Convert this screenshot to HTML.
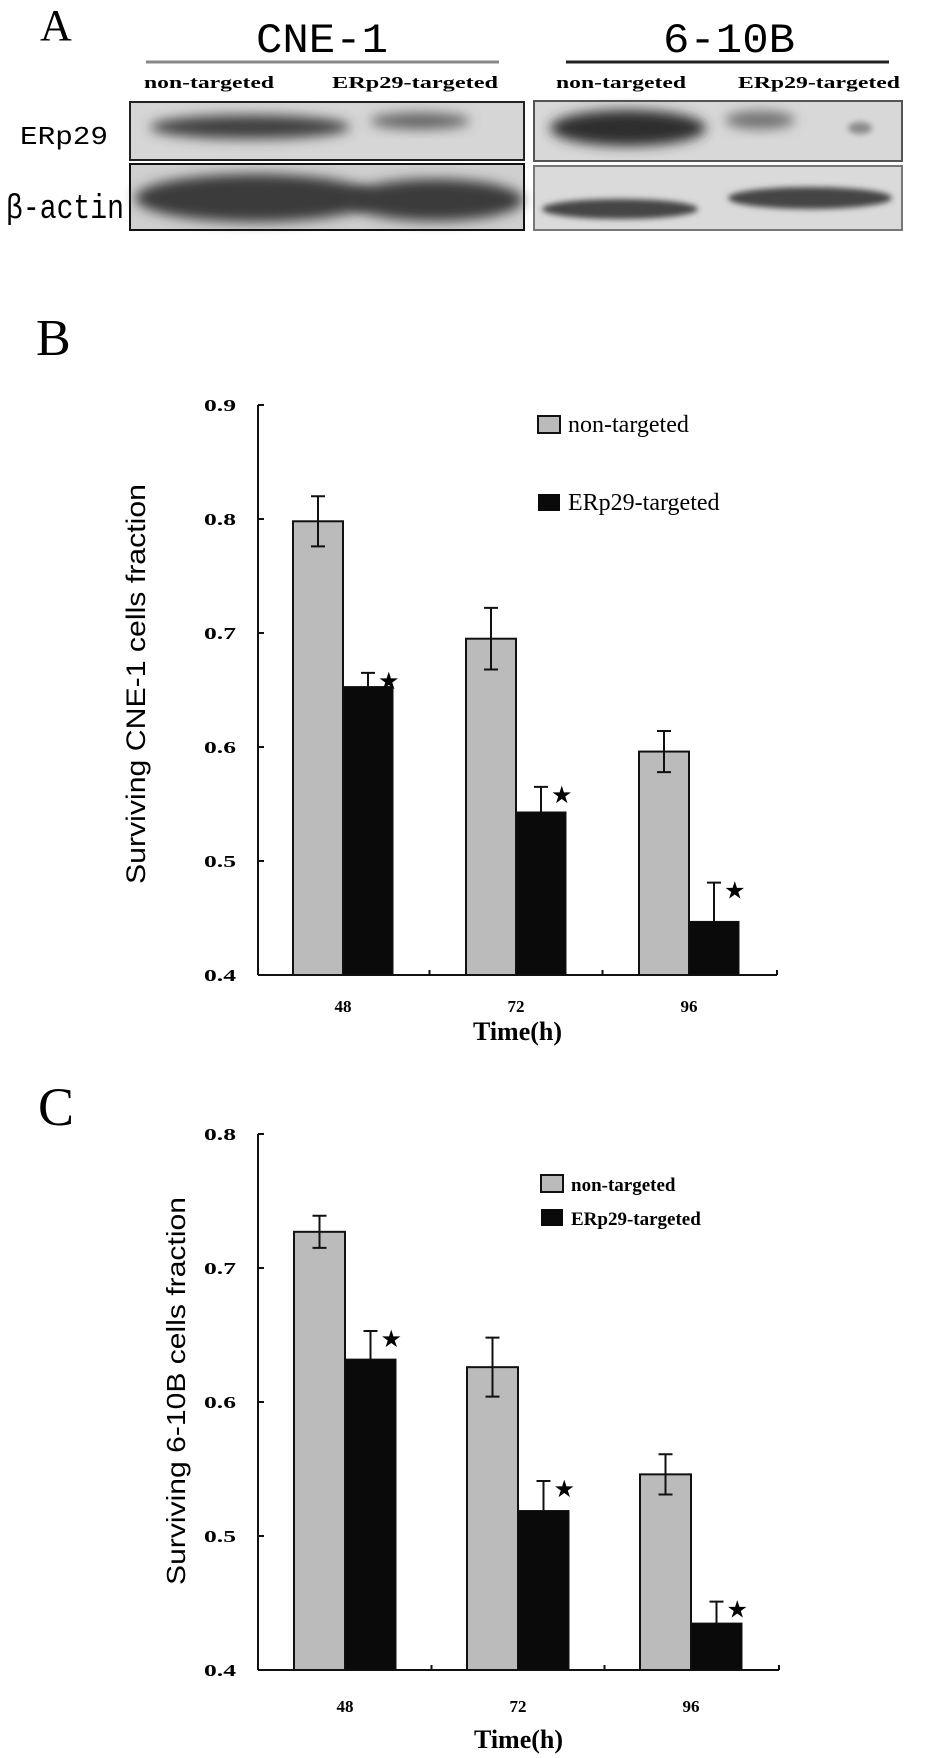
<!DOCTYPE html>
<html><head><meta charset="utf-8"><style>
html,body{margin:0;padding:0;background:#fff;}
svg{display:block;}
.serif{font-family:"Liberation Serif",serif;}
.tick{font-family:"Liberation Serif",serif;font-weight:bold;font-size:17px;}
</style></head><body>
<svg id="fig" width="945" height="1758" viewBox="0 0 945 1758" xmlns="http://www.w3.org/2000/svg">
<defs>
<filter id="blur6" x="-30%" y="-60%" width="160%" height="220%"><feGaussianBlur stdDeviation="6"/></filter>
<filter id="blur3" x="-30%" y="-60%" width="160%" height="220%"><feGaussianBlur stdDeviation="3"/></filter>
</defs>

<g>
<text x="40" y="40" class="serif" font-size="44">A</text>
<text x="322" y="52" text-anchor="middle" font-family="Liberation Mono, monospace" font-size="42" textLength="132" lengthAdjust="spacingAndGlyphs">CNE-1</text>
<line x1="146" y1="62" x2="499" y2="62" stroke="#888" stroke-width="3"/>
<text x="729" y="52" text-anchor="middle" font-family="Liberation Mono, monospace" font-size="42" textLength="132" lengthAdjust="spacingAndGlyphs">6-10B</text>
<line x1="566" y1="62" x2="889" y2="62" stroke="#222" stroke-width="3"/>
<g font-family="Liberation Serif, serif" font-weight="bold" font-size="17">
<text x="144" y="88" textLength="130" lengthAdjust="spacingAndGlyphs">non-targeted</text>
<text x="332" y="88" textLength="166" lengthAdjust="spacingAndGlyphs">ERp29-targeted</text>
<text x="556" y="88" textLength="130" lengthAdjust="spacingAndGlyphs">non-targeted</text>
<text x="738" y="88" textLength="162" lengthAdjust="spacingAndGlyphs">ERp29-targeted</text>
</g>
<text x="20" y="144" font-family="Liberation Mono, monospace" font-size="26" textLength="88" lengthAdjust="spacingAndGlyphs">ERp29</text>
<text x="6" y="218" font-family="Liberation Mono, monospace" font-size="34" textLength="118" lengthAdjust="spacingAndGlyphs">β-actin</text>

<g>
<rect x="130" y="102" width="394" height="58" fill="#d6d6d6" stroke="#222" stroke-width="2"/>
<ellipse cx="250" cy="127" rx="100" ry="12" fill="#404040" filter="url(#blur6)"/>
<ellipse cx="420" cy="121" rx="50" ry="8" fill="#606060" filter="url(#blur6)"/>
</g>
<g>
<rect x="130" y="164" width="394" height="66" fill="#cfcfcf" stroke="#111" stroke-width="2"/>
<ellipse cx="255" cy="198" rx="120" ry="24" fill="#3a3a3a" filter="url(#blur6)"/>
<ellipse cx="435" cy="200" rx="88" ry="21" fill="#3a3a3a" filter="url(#blur6)"/>
</g>
<g>
<rect x="534" y="101" width="368" height="60" fill="#d8d8d8" stroke="#555" stroke-width="2"/>
<ellipse cx="628" cy="128" rx="78" ry="18" fill="#2e2e2e" filter="url(#blur6)"/>
<ellipse cx="760" cy="120" rx="35" ry="9" fill="#707070" filter="url(#blur6)"/>
<ellipse cx="860" cy="128" rx="12" ry="6" fill="#8a8a8a" filter="url(#blur3)"/>
</g>
<g>
<rect x="534" y="166" width="368" height="64" fill="#dadada" stroke="#777" stroke-width="2"/>
<ellipse cx="620" cy="209" rx="78" ry="10" fill="#454545" filter="url(#blur3)"/>
<ellipse cx="810" cy="198" rx="82" ry="11" fill="#454545" filter="url(#blur3)"/>
</g>
</g>

<text x="36" y="355" class="serif" font-size="52">B</text>
<text x="38" y="1125" class="serif" font-size="54">C</text>

<g id="chartB"></g>
<g id="chartC"></g>
</svg>
<script>
const categories = ["48","72","96"];
const bNonTargeted = [0.798, 0.695, 0.596];
const bNonTargetedErr = [0.022, 0.027, 0.018];
const bTargeted = [0.653, 0.543, 0.447];
const bTargetedErr = [0.012, 0.022, 0.034];
const bTicks = [0.4, 0.5, 0.6, 0.7, 0.8, 0.9];
const cNonTargeted = [0.727, 0.626, 0.546];
const cNonTargetedErr = [0.012, 0.022, 0.015];
const cTargeted = [0.632, 0.519, 0.435];
const cTargetedErr = [0.021, 0.022, 0.016];
const cTicks = [0.4, 0.5, 0.6, 0.7, 0.8];
const tickLabelsB = ["0.4","0.5","0.6","0.7","0.8","0.9"];
const tickLabelsC = ["0.4","0.5","0.6","0.7","0.8"];
const NS = "http://www.w3.org/2000/svg";

function mk(parent, tag, attrs, text) {
  const el = document.createElementNS(NS, tag);
  for (const k in attrs) el.setAttribute(k, attrs[k]);
  if (text !== undefined) el.textContent = text;
  parent.appendChild(el);
  return el;
}

function drawChart(g, cfg) {
  const y = v => cfg.y0 - (v - cfg.ticks[0]) / (cfg.ticks[cfg.ticks.length-1] - cfg.ticks[0]) * (cfg.y0 - cfg.yTop);
  const xg = i => cfg.firstBar + i * cfg.groupStep;
  let ax = mk(g, "line", {x1: cfg.axX, y1: cfg.yTop, x2: cfg.axX, y2: cfg.y0, stroke: "#111", "stroke-width": 2});
  
  
  let bx = mk(g, "line", {x1: cfg.axX, y1: cfg.y0, x2: cfg.axEnd, y2: cfg.y0, stroke: "#111", "stroke-width": 2});
  
  
  cfg.ticks.forEach((t, i) => {
    const tk = mk(g, "line", {x1: cfg.axX, y1: y(t), x2: cfg.axX + 6, y2: y(t), stroke: "#111", "stroke-width": 2});
    
    
    const tl = mk(g, "text", {x: cfg.axX - 22, y: y(t) + 6, "text-anchor": "end", class: "tick", "font-size": 19, textLength: 32, lengthAdjust: "spacingAndGlyphs"}, cfg.tickLabels[i]);
    
    
  });
  for (let i = 1; i < categories.length; i++) {
    const xt = (xg(i-1) + 2*cfg.barW + xg(i)) / 2;
    const tk = mk(g, "line", {x1: xt, y1: cfg.y0, x2: xt, y2: cfg.y0 - 5, stroke: "#111", "stroke-width": 2});
    
    
  }
  mk(g, "line", {x1: cfg.axEnd, y1: cfg.y0, x2: cfg.axEnd, y2: cfg.y0 - 5, stroke: "#111", "stroke-width": 2});
  categories.forEach((c, i) => {
    const x = xg(i);
    const v1 = cfg.s1[i], v2 = cfg.s2[i];
    const r1 = mk(g, "rect", {x: x, y: y(v1), width: cfg.barW, height: cfg.y0 - y(v1), fill: "#bbb", stroke: "#111", "stroke-width": 2});
    
    
    const r2 = mk(g, "rect", {x: x + cfg.barW, y: y(v2), width: cfg.barW, height: cfg.y0 - y(v2), fill: "#0a0a0a", stroke: "#111", "stroke-width": 1});
    
    
    const cx1 = x + cfg.barW/2, cx2 = x + cfg.barW*1.5;
    const e1 = mk(g, "path", {d: `M${cx1},${y(v1+cfg.e1[i])}V${y(v1-cfg.e1[i])}M${cx1-7},${y(v1+cfg.e1[i])}h14M${cx1-7},${y(v1-cfg.e1[i])}h14`, stroke: "#111", "stroke-width": 2, fill: "none"});
    
    
    const e2 = mk(g, "path", {d: `M${cx2},${y(v2)}V${y(v2+cfg.e2[i])}M${cx2-7},${y(v2+cfg.e2[i])}h14`, stroke: "#111", "stroke-width": 2, fill: "none"});
    
    
    const st = mk(g, "text", {x: cx2 + 10, y: y(v2 + cfg.e2[i]) + 16, "font-size": 24, "font-family": "DejaVu Sans, sans-serif"}, "★");
    
    
    const xl = mk(g, "text", {x: x + cfg.barW, y: cfg.xLabY, "text-anchor": "middle", class: "tick", "font-size": 19}, c);
    
    
  });
  const xt = mk(g, "text", {x: (cfg.axX + cfg.axEnd)/2, y: cfg.xTitleY, "text-anchor": "middle", "font-family": "Liberation Serif, serif", "font-weight": "bold", "font-size": 26}, "Time(h)");
  
  
  const yt = mk(g, "text", {x: 0, y: 0, "text-anchor": "middle", transform: `translate(${cfg.yTitleX},${cfg.yTitleY}) rotate(-90)`, "font-family": "Liberation Sans, sans-serif", "font-size": cfg.yTitleSize, textLength: cfg.yTitleLen, lengthAdjust: "spacingAndGlyphs"}, cfg.yTitle);
  
  
  const l1 = mk(g, "rect", {x: cfg.legX, y: cfg.legY1 - 8, width: 22, height: 17, fill: "#bbb", stroke: "#111", "stroke-width": 2});
  
  
  const t1 = mk(g, "text", {x: cfg.legX + 30, y: cfg.legY1 + 8, "font-family": "Liberation Serif, serif", "font-size": cfg.legSize, "font-weight": cfg.legWeight}, "non-targeted");
  
  
  const l2 = mk(g, "rect", {x: cfg.legX, y: cfg.legY2 - 8, width: 22, height: 17, fill: "#0a0a0a"});
  
  
  const t2 = mk(g, "text", {x: cfg.legX + 30, y: cfg.legY2 + 8, "font-family": "Liberation Serif, serif", "font-size": cfg.legSize, "font-weight": cfg.legWeight}, "ERp29-targeted");
  
  
}

drawChart(document.getElementById("chartB"), {
  ticks: bTicks, tickLabels: tickLabelsB, s1: bNonTargeted, e1: bNonTargetedErr, s2: bTargeted, e2: bTargetedErr,
  axX: 258, axEnd: 777, y0: 975, yTop: 405, firstBar: 293, groupStep: 173, barW: 50,
  xLabY: 1012, xTitleY: 1040, yTitleX: 145, yTitleY: 684, yTitleSize: 27, yTitleLen: 400,
  yTitle: "Surviving CNE-1 cells fraction",
  legX: 538, legY1: 424, legY2: 502, legSize: 24, legWeight: "normal"
});
drawChart(document.getElementById("chartC"), {
  ticks: cTicks, tickLabels: tickLabelsC, s1: cNonTargeted, e1: cNonTargetedErr, s2: cTargeted, e2: cTargetedErr,
  axX: 258, axEnd: 779, y0: 1670, yTop: 1134, firstBar: 294, groupStep: 173, barW: 51,
  xLabY: 1712, xTitleY: 1748, yTitleX: 185, yTitleY: 1391, yTitleSize: 26, yTitleLen: 388,
  yTitle: "Surviving 6-10B cells fraction",
  legX: 541, legY1: 1183, legY2: 1217, legSize: 19, legWeight: "bold"
});
</script>
</body></html>
